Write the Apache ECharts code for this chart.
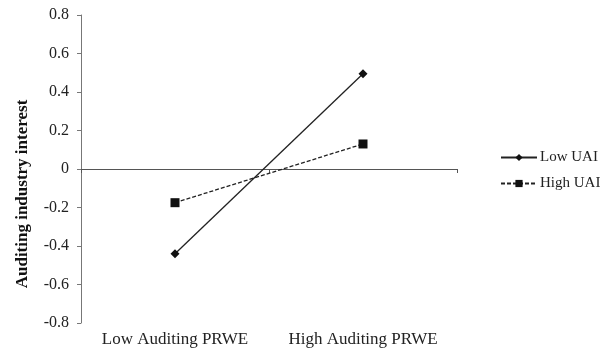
<!DOCTYPE html>
<html>
<head>
<meta charset="utf-8">
<script src="https://cdn.jsdelivr.net/npm/echarts@6/dist/echarts.min.js"></script>
<style>
  html, body { margin: 0; padding: 0; background: #fff; }
  #chart { width: 612px; height: 349px; }
</style>
</head>
<body>
<div id="chart"></div>
<script>
// Interaction plot: auditing industry interest by PRWE level and UAI group
const categories = ['Low Auditing PRWE', 'High Auditing PRWE'];
const lowUAI = [-0.44, 0.495];
const highUAI = [-0.175, 0.13];
const yTicks = { min: -0.8, max: 0.8, interval: 0.2 };

const serif = '"Liberation Serif", "Times New Roman", serif';
const chart = echarts.init(document.getElementById('chart'));

chart.setOption({
  animation: false,
  textStyle: { fontFamily: serif },
  grid: { left: 81, right: 155, top: 15, bottom: 26, containLabel: false },
  legend: {
    orient: 'vertical',
    left: 500,
    top: 149,
    padding: 0,
    itemWidth: 36,
    itemHeight: 9,
    itemGap: 9,
    textStyle: { fontFamily: serif, fontSize: 15, lineHeight: 17, color: '#222', padding: [0, 0, 0, -2] },
    data: ['Low UAI', 'High UAI']
  },
  xAxis: [
    {
      type: 'category',
      data: categories,
      boundaryGap: true,
      axisLine: { onZero: true, lineStyle: { color: '#555', width: 1 } },
      axisTick: { show: true, length: 4, lineStyle: { color: '#555' } },
      axisLabel: { show: false },
      splitLine: { show: false }
    },
    {
      type: 'category',
      data: categories,
      position: 'bottom',
      boundaryGap: true,
      axisLine: { show: false },
      axisTick: { show: false },
      axisLabel: { show: true, interval: 0, margin: 8, fontFamily: serif, fontSize: 17, color: '#222' },
      splitLine: { show: false }
    }
  ],
  yAxis: {
    type: 'value',
    min: yTicks.min,
    max: yTicks.max,
    interval: yTicks.interval,
    name: 'Auditing industry interest',
    nameLocation: 'middle',
    nameGap: 50,
    nameTextStyle: { fontFamily: serif, fontSize: 17, fontWeight: 'bold', color: '#111', padding: [0, 50, 0, 0] },
    axisLine: { show: true, lineStyle: { color: '#777', width: 1 } },
    axisTick: { show: true, length: 4, lineStyle: { color: '#777' } },
    axisLabel: {
      margin: 12,
      fontFamily: serif,
      fontSize: 16,
      color: '#222',
      formatter: v => (Math.abs(v) < 1e-9 ? '0' : String(Math.round(v * 10) / 10))
    },
    splitLine: { show: false }
  },
  series: [
    {
      name: 'Low UAI',
      type: 'line',
      data: lowUAI,
      symbol: 'diamond',
      symbolSize: 9,
      lineStyle: { color: '#222', width: 1.3, type: 'solid' },
      itemStyle: { color: '#111' }
    },
    {
      name: 'High UAI',
      type: 'line',
      data: highUAI,
      symbol: 'rect',
      symbolSize: 9,
      lineStyle: { color: '#222', width: 1.3, type: [4, 2] },
      itemStyle: { color: '#111' }
    }
  ]
});
</script>
</body>
</html>
